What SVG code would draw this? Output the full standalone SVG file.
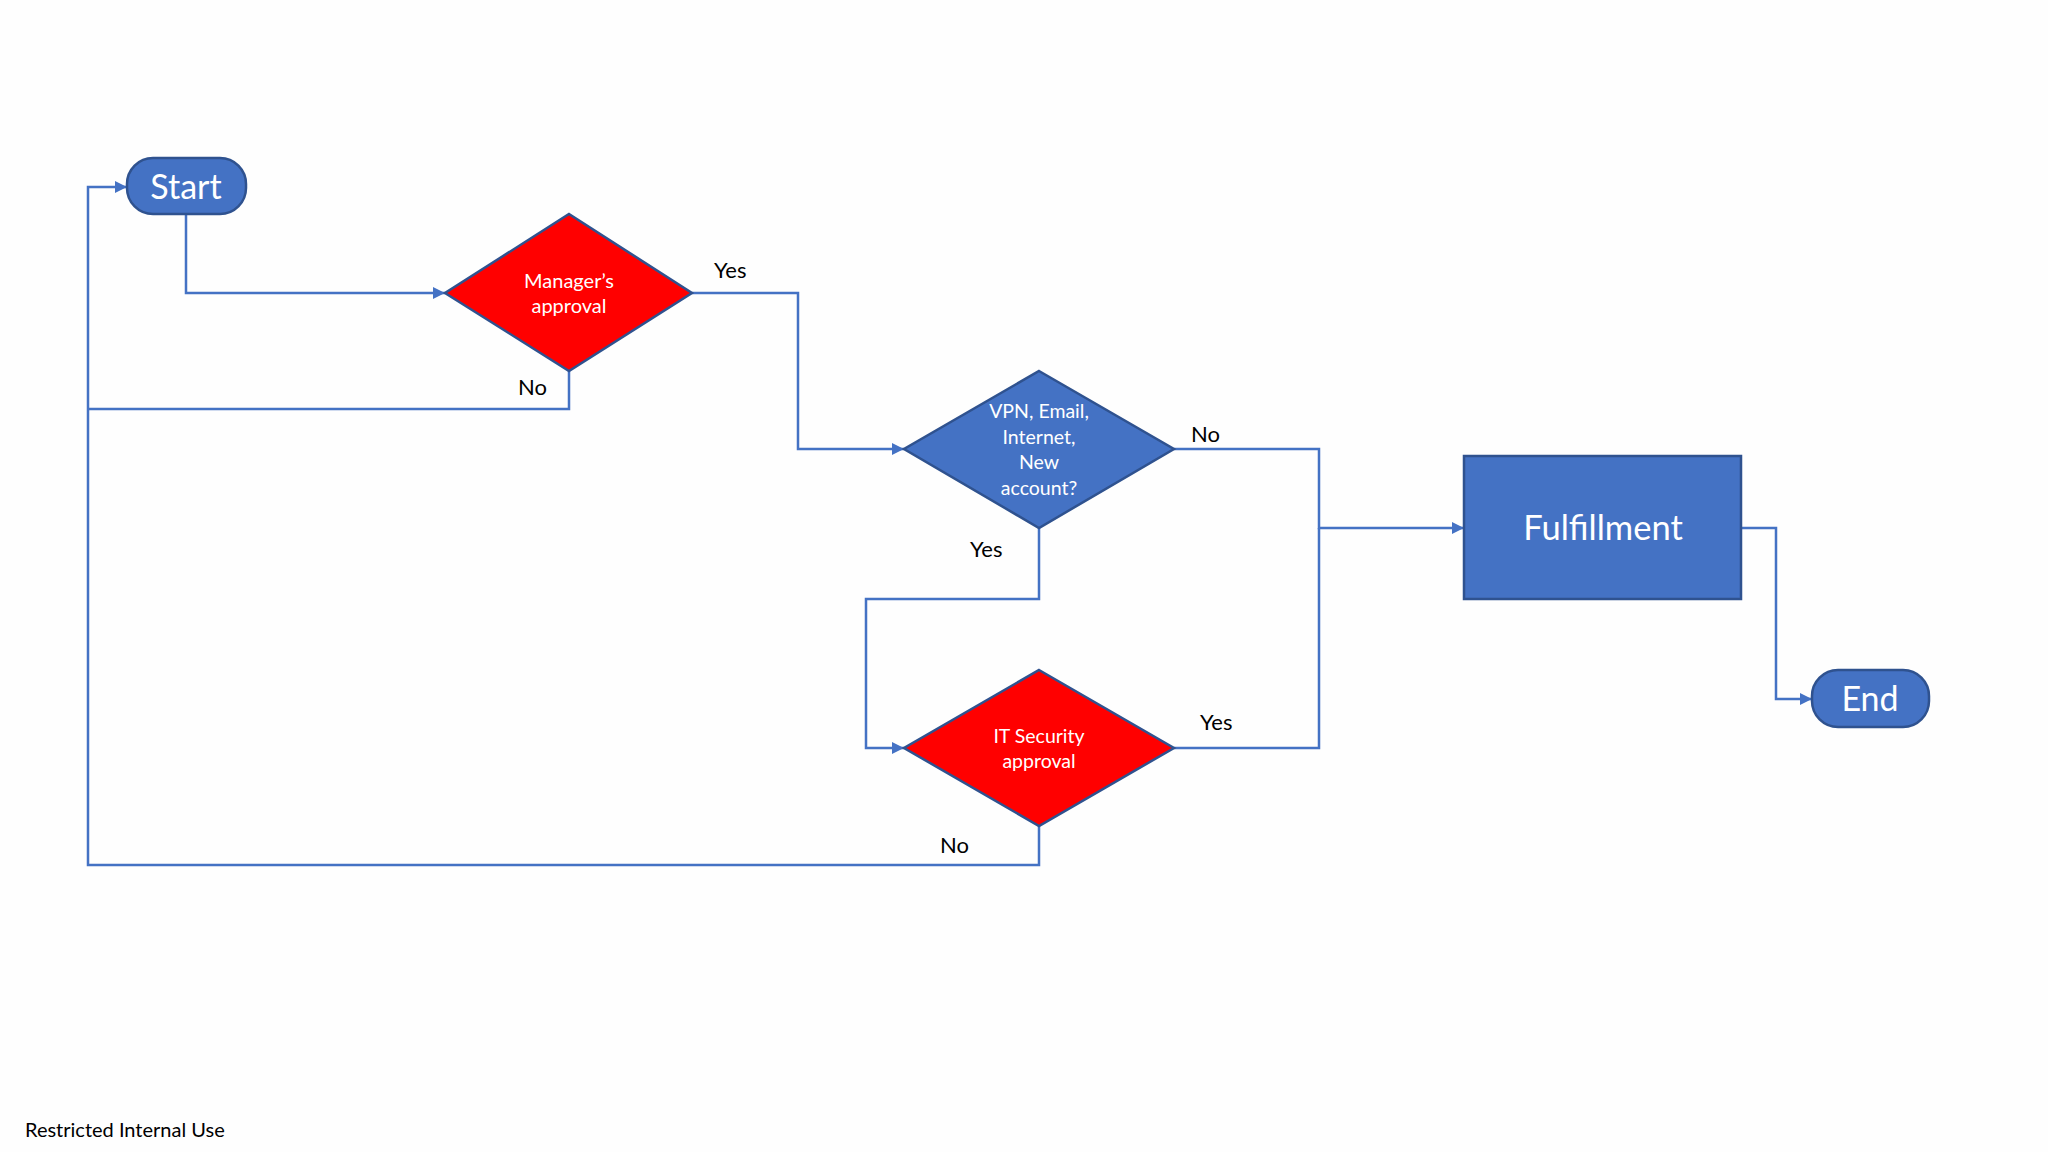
<svg xmlns="http://www.w3.org/2000/svg" width="2048" height="1152" viewBox="0 0 2048 1152">
<defs>
<marker id="arr" markerUnits="userSpaceOnUse" markerWidth="14" markerHeight="12" refX="12" refY="6" orient="auto">
<path d="M0,0 L12,6 L0,12 Z" fill="#4472C4"/>
</marker>
<style>
.term{fill:#4472C4;stroke:#2F528F;stroke-width:2.5}
.proc{fill:#4472C4;stroke:#2F528F;stroke-width:2.5}
.dred{fill:#FF0000;stroke:#2F528F;stroke-width:2.5}
.dblue{fill:#4472C4;stroke:#2F528F;stroke-width:2.5}
.conn{fill:none;stroke:#4472C4;stroke-width:2.5}
.wt{fill:#FFFFFF;font-family:Lato,"Liberation Sans",sans-serif;text-anchor:middle}
.lbl{fill:#000000;font-family:Lato,"Liberation Sans",sans-serif;font-size:22px}
</style>
</defs>
<rect x="0" y="0" width="2048" height="1152" fill="#FEFEFE"/>
<g id="connectors">
<path class="conn" d="M186,214 V293 H445" marker-end="url(#arr)"/>
<path class="conn" d="M692,293 H798 V449 H904" marker-end="url(#arr)"/>
<path class="conn" d="M569,371 V409 H88"/>
<path class="conn" d="M1039,825 V865 H88 V187 H127" marker-end="url(#arr)"/>
<path class="conn" d="M1039,528 V599 H866 V748 H904" marker-end="url(#arr)"/>
<path class="conn" d="M1174,449 H1319 V528 H1464" marker-end="url(#arr)"/>
<path class="conn" d="M1174,748 H1319 V528"/>
<path class="conn" d="M1741,528 H1776 V699 H1812" marker-end="url(#arr)"/>
</g>
<g id="start">
<rect class="term" x="127" y="158" width="119" height="56" rx="26" ry="26"/>
<text class="wt" x="186" y="199" font-size="34">Start</text>
</g>
<g id="manager">
<polygon class="dred" points="569,214 692,293 569,371 445,293"/>
<text class="wt" x="569" y="288" font-size="20">Manager’s</text>
<text class="wt" x="569" y="313" font-size="20">approval</text>
</g>
<g id="vpn">
<polygon class="dblue" points="1039,371 1174,449 1039,528 904,449"/>
<text class="wt" x="1039" y="418" font-size="19.5">VPN, Email,</text>
<text class="wt" x="1039" y="444" font-size="19.5">Internet,</text>
<text class="wt" x="1039" y="469" font-size="19.5">New</text>
<text class="wt" x="1039" y="495" font-size="19.5">account?</text>
</g>
<g id="itsec">
<polygon class="dred" points="1039,670 1174,748 1039,826 904,748"/>
<text class="wt" x="1039" y="743" font-size="19.5">IT Security</text>
<text class="wt" x="1039" y="768" font-size="19.5">approval</text>
</g>
<g id="fulfillment">
<rect class="proc" x="1464" y="456" width="277" height="143"/>
<text class="wt" x="1603" y="540" font-size="34.5">Fulfillment</text>
</g>
<g id="end">
<rect class="term" x="1812" y="670" width="117" height="57" rx="26" ry="26"/>
<text class="wt" x="1870" y="711" font-size="34">End</text>
</g>
<g id="labels">
<text class="lbl" x="714" y="278">Yes</text>
<text class="lbl" x="518" y="395">No</text>
<text class="lbl" x="1191" y="442">No</text>
<text class="lbl" x="970" y="557">Yes</text>
<text class="lbl" x="1200" y="730">Yes</text>
<text class="lbl" x="940" y="853">No</text>
</g>
<text x="25" y="1137" font-family="Lato,'Liberation Sans',sans-serif" font-size="20" fill="#000000">Restricted Internal Use</text>
</svg>
